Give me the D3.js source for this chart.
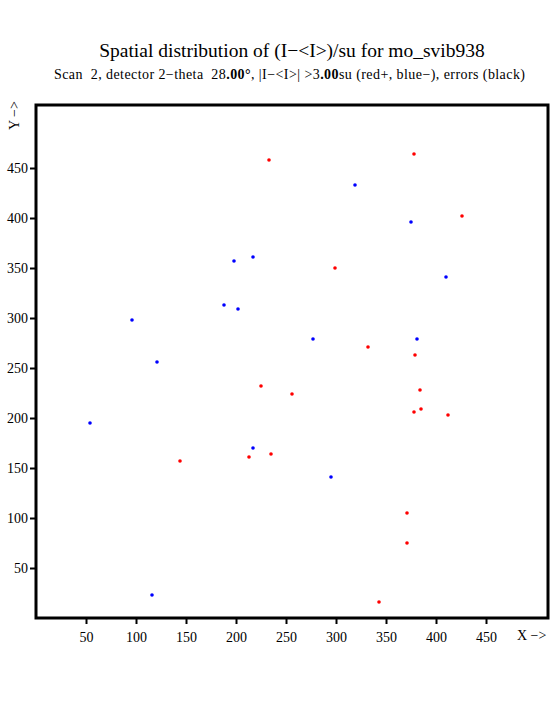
<!DOCTYPE html>
<html>
<head>
<meta charset="utf-8">
<script src="https://cdn.jsdelivr.net/npm/d3@7"></script>
<style>
  body { margin: 0; background: #fff; }
  text { font-family: "Liberation Serif", "Times New Roman", serif; fill: #000; }
</style>
</head>
<body>
<div id="chart"></div>
<script>
// positive outliers (red) and negative outliers (blue), detector coordinates
var redX = [233, 378, 426, 299, 332, 379, 225, 235, 213, 144, 256, 384, 385, 378, 412, 371, 371, 343];
var redY = [458, 464, 402, 350, 271, 263, 232, 164, 161, 157, 224, 228, 209, 206, 203, 105, 75, 16];
var blueX = [217, 198, 188, 202, 96, 319, 375, 410, 277, 381, 121, 54, 217, 295, 116];
var blueY = [361, 357, 313, 309, 298, 433, 396, 341, 279, 279, 256, 195, 170, 141, 23];
var xTicks = [50, 100, 150, 200, 250, 300, 350, 400, 450];
var yTicks = [50, 100, 150, 200, 250, 300, 350, 400, 450];

var width = 555, height = 725;
var margin = {top: 105, right: 7, bottom: 107, left: 36};

var svg = d3.select("#chart").append("svg")
    .attr("width", width)
    .attr("height", height);

var xScale = d3.scaleLinear()
    .domain([0, 512])
    .range([margin.left, width - margin.right]);

var yScale = d3.scaleLinear()
    .domain([0, 513])
    .range([height - margin.bottom, margin.top]);

// titles
svg.append("text")
    .attr("x", 292)
    .attr("y", 57)
    .attr("text-anchor", "middle")
    .style("font-size", "19.5px")
    .text("Spatial distribution of (I\u2212<I>)/su for mo_svib938");

var sub = svg.append("text")
    .attr("x", 54)
    .attr("y", 79)
    .attr("textLength", 471)
    .attr("lengthAdjust", "spacing")
    .style("font-size", "14px")
    .style("white-space", "pre");
sub.append("tspan").text("Scan  2, detector 2\u2212theta  28");
sub.append("tspan").style("font-weight", "bold").text(".00\u00b0");
sub.append("tspan").text(", |I\u2212<I>| >3");
sub.append("tspan").style("font-weight", "bold").text(".00");
sub.append("tspan").text("su (red+, blue\u2212), errors (black)");

// axes
var xAxis = d3.axisBottom(xScale).tickValues(xTicks).tickSize(6).tickPadding(8);
var yAxis = d3.axisLeft(yScale).tickValues(yTicks).tickSize(6).tickPadding(2);

var gx = svg.append("g")
    .attr("transform", "translate(0," + (height - margin.bottom) + ")")
    .call(xAxis);
var gy = svg.append("g")
    .attr("transform", "translate(" + margin.left + ",0)")
    .call(yAxis);

[gx, gy].forEach(function(g) {
    g.select(".domain").remove();
    g.selectAll(".tick line").attr("stroke", "#000").attr("stroke-width", 2);
    g.selectAll(".tick text")
        .style("font-size", "14px")
        .style("font-family", "'Liberation Serif', serif")
        .attr("fill", "#000");
});

// frame
svg.append("rect")
    .attr("x", margin.left)
    .attr("y", margin.top)
    .attr("width", width - margin.left - margin.right)
    .attr("height", height - margin.top - margin.bottom)
    .attr("fill", "none")
    .attr("stroke", "#000")
    .attr("stroke-width", 3);

// axis names
svg.append("text")
    .attr("x", 517)
    .attr("y", 640)
    .style("font-size", "14px")
    .text("X \u2212>");

svg.append("text")
    .attr("transform", "translate(19,130) rotate(-90)")
    .style("font-size", "14px")
    .text("Y \u2212>");

// points
function drawPoints(xs, ys, color) {
    svg.append("g").selectAll("circle")
        .data(xs.map(function(d, i) { return [d, ys[i]]; }))
        .enter()
        .append("circle")
        .attr("cx", function(d) { return xScale(d[0]); })
        .attr("cy", function(d) { return yScale(d[1]); })
        .attr("r", 1.8)
        .attr("fill", color);
}
drawPoints(redX, redY, "#ff0000");
drawPoints(blueX, blueY, "#0000ff");
</script>
</body>
</html>
